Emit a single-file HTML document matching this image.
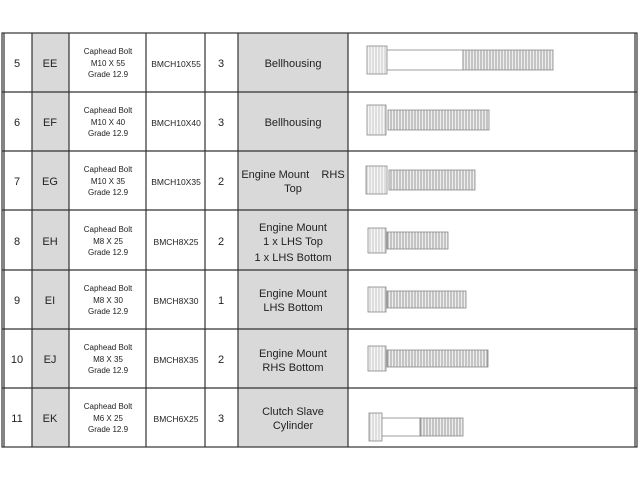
<!DOCTYPE html>
<html><head><meta charset="utf-8"><style>
body{margin:0;background:#fff;width:640px;height:480px;overflow:hidden}
svg{display:block}
text{font-family:"Liberation Sans",sans-serif;fill:#222;text-anchor:middle}
</style></head><body>
<svg width="640" height="480" viewBox="0 0 640 480">
<defs>
<pattern id="th" width="3" height="10" patternUnits="userSpaceOnUse"><rect width="3" height="10" fill="#eee"/><line x1="1" y1="0" x2="1" y2="10" stroke="#999" stroke-width="1"/></pattern>
<pattern id="hd" width="3" height="10" patternUnits="userSpaceOnUse"><rect width="3" height="10" fill="#f6f6f6"/><line x1="1" y1="0" x2="1" y2="10" stroke="#bbb" stroke-width="0.8"/></pattern>
</defs>
<rect x="32" y="33" width="37" height="414" fill="#d9d9d9"/>
<rect x="238" y="33" width="110" height="414" fill="#d9d9d9"/>
<g stroke="#333" stroke-width="1.2" fill="none">
<rect x="2" y="33" width="635" height="414"/>
<line x1="4" y1="33" x2="4" y2="447"/>
<line x1="635" y1="33" x2="635" y2="447"/>
<line x1="32" y1="33" x2="32" y2="447"/>
<line x1="69" y1="33" x2="69" y2="447"/>
<line x1="146" y1="33" x2="146" y2="447"/>
<line x1="205" y1="33" x2="205" y2="447"/>
<line x1="238" y1="33" x2="238" y2="447"/>
<line x1="348" y1="33" x2="348" y2="447"/>
<line x1="2" y1="92" x2="637" y2="92"/>
<line x1="2" y1="151" x2="637" y2="151"/>
<line x1="2" y1="210" x2="637" y2="210"/>
<line x1="2" y1="270" x2="637" y2="270"/>
<line x1="2" y1="329" x2="637" y2="329"/>
<line x1="2" y1="388" x2="637" y2="388"/>
</g>
<g font-size="11">
<text x="17" y="67">5</text><text x="50" y="67">EE</text><text x="221" y="67">3</text>
<text x="17" y="126">6</text><text x="50" y="126">EF</text><text x="221" y="126">3</text>
<text x="17" y="185">7</text><text x="50" y="185">EG</text><text x="221" y="185">2</text>
<text x="17" y="245">8</text><text x="50" y="245">EH</text><text x="221" y="245">2</text>
<text x="17" y="304">9</text><text x="50" y="304">EI</text><text x="221" y="304">1</text>
<text x="17" y="363">10</text><text x="50" y="363">EJ</text><text x="221" y="363">2</text>
<text x="17" y="422">11</text><text x="50" y="422">EK</text><text x="221" y="422">3</text>
<text x="293" y="67">Bellhousing</text>
<text x="293" y="126">Bellhousing</text>
<text x="293" y="178">Engine Mount&#160;&#160;&#160; RHS</text><text x="293" y="192">Top</text>
<text x="293" y="231">Engine Mount</text><text x="293" y="245">1 x LHS Top</text><text x="293" y="261">1 x LHS Bottom</text>
<text x="293" y="297">Engine Mount</text><text x="293" y="311">LHS Bottom</text>
<text x="293" y="357">Engine Mount</text><text x="293" y="371">RHS Bottom</text>
<text x="293" y="415">Clutch Slave</text><text x="293" y="429">Cylinder</text>
</g>
<g font-size="8.5">
<text x="176" y="67">BMCH10X55</text><text x="176" y="126">BMCH10X40</text>
<text x="176" y="185">BMCH10X35</text><text x="176" y="245">BMCH8X25</text>
<text x="176" y="304">BMCH8X30</text><text x="176" y="363">BMCH8X35</text>
<text x="176" y="422">BMCH6X25</text>
</g>
<g font-size="8">
<text x="108" y="54">Caphead Bolt</text><text x="108" y="66">M10 X 55</text><text x="108" y="77">Grade 12.9</text>
<text x="108" y="113">Caphead Bolt</text><text x="108" y="125">M10 X 40</text><text x="108" y="136">Grade 12.9</text>
<text x="108" y="172">Caphead Bolt</text><text x="108" y="184">M10 X 35</text><text x="108" y="195">Grade 12.9</text>
<text x="108" y="232">Caphead Bolt</text><text x="108" y="244">M8 X 25</text><text x="108" y="255">Grade 12.9</text>
<text x="108" y="291">Caphead Bolt</text><text x="108" y="303">M8 X 30</text><text x="108" y="314">Grade 12.9</text>
<text x="108" y="350">Caphead Bolt</text><text x="108" y="362">M8 X 35</text><text x="108" y="373">Grade 12.9</text>
<text x="108" y="409">Caphead Bolt</text><text x="108" y="421">M6 X 25</text><text x="108" y="432">Grade 12.9</text>
</g>
<g stroke="#888" stroke-width="0.8">
<rect x="367" y="46" width="20" height="28" fill="url(#hd)"/><rect x="387" y="50" width="76" height="20" fill="#fff"/><rect x="463" y="50" width="90" height="20" fill="url(#th)"/>
<rect x="367" y="105" width="19" height="30" fill="url(#hd)"/><rect x="388" y="110" width="101" height="20" fill="url(#th)"/>
<rect x="366" y="166" width="21" height="28" fill="url(#hd)"/><rect x="389" y="170" width="86" height="20" fill="url(#th)"/>
<rect x="368" y="228" width="18" height="25" fill="url(#hd)"/><rect x="387" y="232" width="61" height="17" fill="url(#th)"/>
<rect x="368" y="287" width="18" height="25" fill="url(#hd)"/><rect x="387" y="291" width="79" height="17" fill="url(#th)"/>
<rect x="368" y="346" width="18" height="25" fill="url(#hd)"/><rect x="387" y="350" width="101" height="17" fill="url(#th)"/>
<rect x="369" y="413" width="13" height="28" fill="url(#hd)"/><rect x="382" y="418" width="38" height="18" fill="#fff"/><rect x="420" y="418" width="43" height="18" fill="url(#th)"/>
</g>
</svg>
</body></html>
